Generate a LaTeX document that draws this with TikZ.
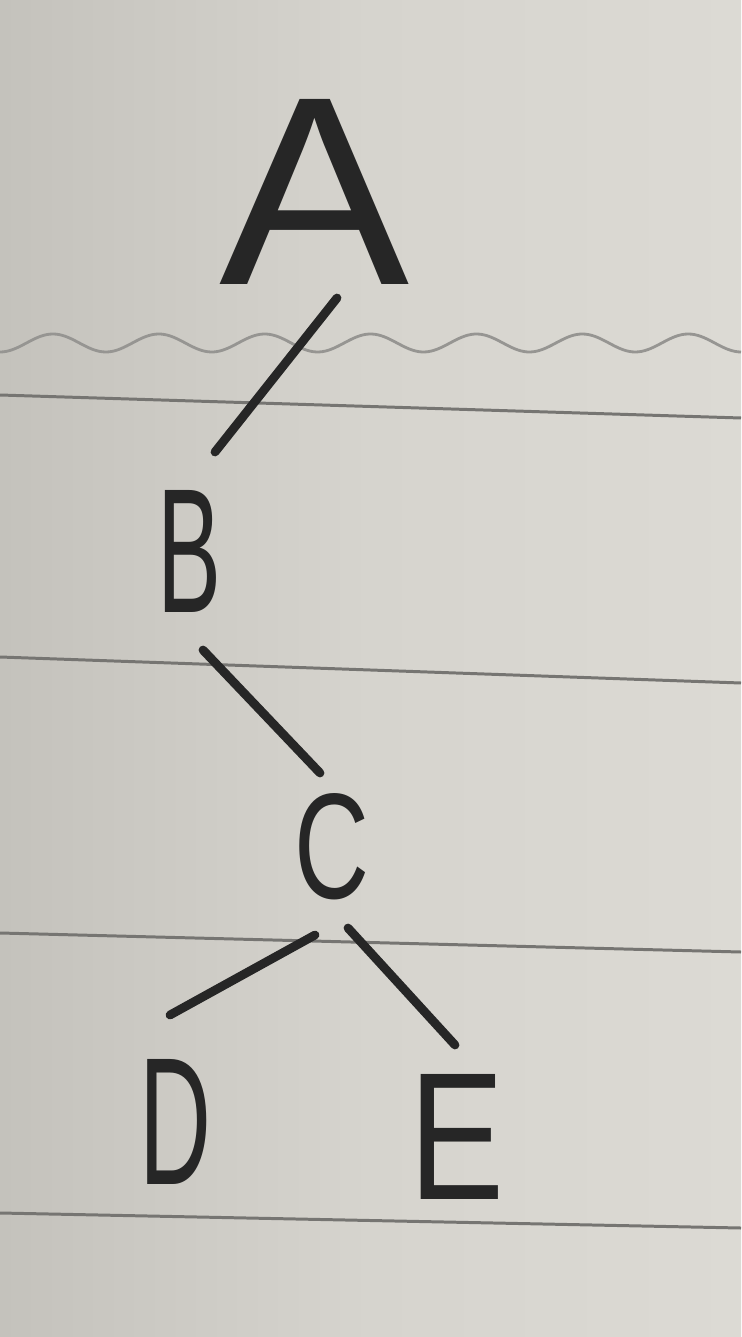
\documentclass[tikz,border=0pt]{standalone}
\usepackage{fontspec}
\setmainfont{Liberation Sans}
\usepackage{graphicx}
\definecolor{paperL}{RGB}{196,194,188}
\definecolor{paperM}{RGB}{214,212,206}
\definecolor{paperR}{RGB}{220,218,212}
\definecolor{ink}{RGB}{38,38,38}
\definecolor{rule}{RGB}{118,117,114}
\definecolor{wave}{RGB}{150,149,146}
\tikzset{
  letter/.style={inner sep=0pt, text=ink},
  edge/.style={draw=ink, line width=5pt, line cap=round},
  ruled/.style={draw=rule, line width=1.7pt},
}
\begin{document}
\begin{tikzpicture}[x=0.02cm,y=-0.02cm]
\useasboundingbox (0,0) rectangle (741,1337);
\shade[left color=paperL, right color=paperR, middle color=paperM] (0,0) rectangle (741,1337);
% wavy line
\draw[wave, line width=1.6pt] plot[domain=0:741, samples=240, smooth] (\x, {343 + 9*sin(\x*3.4+90)});
% ruled lines
\draw[ruled] (0,395) -- (741,418);
\draw[ruled] (0,657) -- (741,683);
\draw[ruled] (0,933) -- (741,952);
\draw[ruled] (0,1213) -- (741,1228);
% letters
\node[letter] (A) at (315,192) {\resizebox{3.8cm}{3.7cm}{A}};
\node[letter] (B) at (190,551) {\resizebox{1.28cm}{2.44cm}{B}};
\node[letter] (C) at (332,847) {\resizebox{1.5cm}{2.1cm}{C}};
\node[letter] (D) at (176,1122) {\resizebox{1.44cm}{2.5cm}{D}};
\node[letter] (E) at (457,1137) {\resizebox{1.9cm}{2.5cm}{E}};
% edges
\draw[edge] ([shift={(22,106)}]A.center) -- ([shift={(25,-99)}]B.center);
\draw[edge] ([shift={(13,99)}]B.center) -- ([shift={(-12,-74)}]C.center);
\draw[edge] ([shift={(-17,88)}]C.center) -- ([shift={(-6,-107)}]D.center);
\draw[edge] ([shift={(16,81)}]C.center) -- ([shift={(-2,-92)}]E.center);
\end{tikzpicture}
\end{document}
